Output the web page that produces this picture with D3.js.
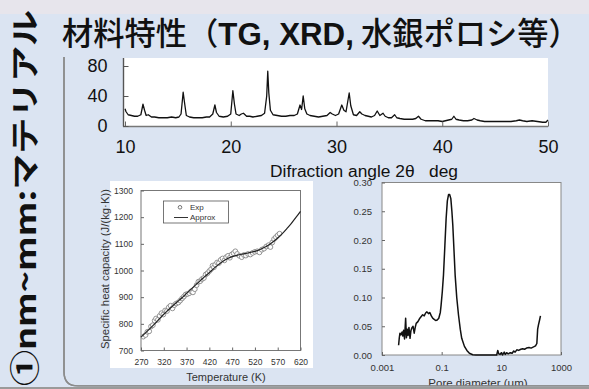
<!DOCTYPE html>
<html><head><meta charset="utf-8">
<script src="https://cdn.jsdelivr.net/npm/d3@7"></script>
<style>html,body{margin:0;padding:0;background:#dbe4f2;overflow:hidden}</style>
</head><body><svg id="c" width="589" height="389" xmlns="http://www.w3.org/2000/svg"></svg>
<script>
// ---------- data ----------
const titleParts = ["材料特性（", "TG, XRD,", " 水銀ポロシ等）"];
const sideText = "①nm~mm:マテリアル";

const xrdAngle = [10.0,10.1,10.3,10.6,10.9,11.2,11.5,11.7,11.85,12.0,12.2,12.5,12.8,13.2,13.6,14.0,14.4,14.8,15.1,15.3,15.5,15.65,15.8,16.1,16.5,16.9,17.3,17.7,18.0,18.3,18.5,18.65,18.9,19.3,19.7,20.0,20.2,20.35,20.5,20.8,21.0,21.2,21.5,21.8,22.1,22.5,22.9,23.2,23.4,23.5,23.6,23.75,24.0,24.4,24.8,25.2,25.6,26.0,26.3,26.55,26.7,26.85,27.0,27.2,27.5,27.9,28.3,28.7,29.1,29.4,29.6,29.9,30.2,30.5,30.7,30.9,31.2,31.35,31.6,31.9,32.2,32.4,32.7,33.0,33.3,33.6,33.85,34.1,34.4,34.6,34.9,35.2,35.5,35.7,36.0,36.4,36.8,37.2,37.5,37.75,38.0,38.4,38.8,39.2,39.6,40.0,40.3,40.6,40.9,41.1,41.3,41.6,42.0,42.4,42.8,43.0,43.3,43.6,44.0,44.5,45.0,45.5,46.0,46.5,47.0,47.3,47.6,48.0,48.5,49.0,49.5,49.8,50.0];
const xrdIntensity = [23,19,15,14,13,13,15,29,21,14,15,12,12,11,11,11,12,11,12,16,45,29,14,12,11,11,11,12,12,16,28,18,13,12,13,16,47,29,16,14,16,17,13,13,12,13,14,17,40,73,44,21,15,14,13,13,14,14,16,28,22,40,23,16,14,13,12,13,14,18,16,14,16,28,21,19,44,27,15,14,19,16,14,13,12,14,20,14,17,13,11,11,15,11,10,9,9,9,10,13,9,7,7,7,7,6,7,8,9,13,9,8,7,7,8,10,8,7,6,6,6,6,6,6,7,8,7,6,7,6,5,5,8];
const xrdXTicks = [10,20,30,40,50];
const xrdYTicks = [0,40,80];

const cpApproxT = [270,280,290,300,310,320,330,340,350,360,370,380,390,400,410,420,430,440,450,460,470,480,490,500,510,520,530,540,550,560,570,580,590,600,610,620];
const cpApproxV = [750,766,783,800,818,836,852,868,883,898,914,930,946,962,977,992,1008,1022,1035,1045,1052,1057,1061,1064,1068,1072,1078,1086,1096,1108,1122,1138,1157,1177,1199,1222];
const cpExpT = [275,280,284,288,292,296,300,303,307,311,315,319,323,327,331,335,339,343,347,352,356,360,364,368,372,376,380,384,388,392,396,400,404,408,412,416,420,424,427,430,433,437,441,445,449,453,457,461,465,469,473,477,481,486,491,496,500,505,510,515,520,525,530,535,540,545,550,554,558,562,566,570,574];
const cpExpV = [752,758,770,772,790,795,812,820,815,830,840,835,850,848,862,868,858,870,876,880,887,895,902,910,912,915,922,918,930,945,958,960,968,972,985,990,998,1005,1018,1012,1022,1030,1028,1040,1045,1038,1050,1055,1048,1060,1065,1072,1062,1055,1050,1058,1056,1062,1060,1066,1070,1072,1068,1078,1082,1090,1095,1088,1105,1118,1125,1132,1138];
const cpXTicks = [270,320,370,420,470,520,570,620];
const cpYTicks = [700,800,900,1000,1100,1200,1300];

const poreD = [0.0036,0.0038,0.0040,0.0043,0.0047,0.0050,0.0053,0.0057,0.0062,0.0066,0.0070,0.0075,0.0080,0.0087,0.0093,0.010,0.011,0.012,0.013,0.014,0.016,0.018,0.020,0.023,0.026,0.029,0.032,0.036,0.040,0.045,0.050,0.056,0.063,0.071,0.080,0.090,0.095,0.105,0.115,0.128,0.141,0.155,0.170,0.185,0.203,0.220,0.236,0.260,0.283,0.320,0.366,0.420,0.470,0.580,0.700,0.850,1.1,1.4,2,4,7,7.6,8.2,9,10,11,12.5,13.5,15,17,20,23,26,29,33,38,45,52,60,70,85,100,120,140,155,165,175,190,205];
const poreV = [0.017,0.030,0.038,0.035,0.040,0.033,0.043,0.028,0.064,0.030,0.045,0.034,0.048,0.029,0.042,0.047,0.050,0.038,0.048,0.055,0.058,0.063,0.066,0.070,0.068,0.073,0.075,0.072,0.074,0.068,0.064,0.062,0.060,0.061,0.064,0.074,0.085,0.110,0.139,0.190,0.237,0.268,0.279,0.279,0.272,0.250,0.226,0.180,0.139,0.100,0.070,0.045,0.029,0.015,0.008,0.003,0.0005,0,0,0,0,0.008,0.002,0.001,0.004,0,0.005,0.001,0.004,0.002,0.004,0.003,0.007,0.005,0.009,0.008,0.010,0.011,0.010,0.012,0.013,0.012,0.014,0.016,0.020,0.045,0.052,0.060,0.068];
const poreXTicks = [0.001,0.1,10,1000];
const poreYTicks = [0,0.05,0.10,0.15,0.20,0.25,0.30];

// ---------- drawing ----------
const svg = d3.select("#c");
svg.append("rect").attr("width",589).attr("height",389).attr("fill","#dbe4f2");
svg.append("rect").attr("width",589).attr("height",14).attr("fill","#e7e5ec");

// title
const title = svg.append("text").attr("x",62).attr("y",45)
  .attr("font-family","'Noto Sans CJK JP','Noto Sans',sans-serif").attr("font-weight",500).attr("font-size",27).attr("fill","#111");
title.append("tspan").text(titleParts[0]);
title.append("tspan").attr("font-weight","bold").attr("font-family","'Liberation Sans',Arial,sans-serif").text(titleParts[1]);
title.append("tspan").text(titleParts[2]);
{ const L = title.node().getComputedTextLength(); title.attr("font-size", 27*518/L); }

// side text
svg.append("text").attr("transform","translate(26,386) rotate(-90)")
  .attr("dy","0.36em").attr("font-family","'Noto Sans CJK JP',sans-serif").attr("font-weight","bold")
  .attr("font-size",29).attr("fill","#111")
  .attr("textLength",376).attr("lengthAdjust","spacingAndGlyphs").text(sideText);

// frame
svg.append("path").attr("d","M64,57 V372 Q64,386 78,386 H589").attr("fill","none").attr("stroke","#8c8c8c").attr("stroke-width",1.5);

// ---------- XRD ----------
{
  const x = d3.scaleLinear([10,50],[125,548]);
  const y = d3.scaleLinear([0,90],[126,58.5]);
  svg.append("rect").attr("x",123).attr("y",58).attr("width",425).attr("height",68.5).attr("fill","#fff");
  const g = svg.append("g");
  g.append("path").datum(d3.zip(xrdAngle,xrdIntensity))
    .attr("d", d3.line().x(d=>x(d[0])).y(d=>y(d[1])))
    .attr("fill","none").attr("stroke","#111").attr("stroke-width",1.3).attr("stroke-linejoin","round");
  const xa = g.append("g").attr("transform","translate(0,126.5)")
    .call(d3.axisBottom(x).tickValues(xrdXTicks).tickSize(-5).tickPadding(12).tickFormat(d3.format("d")));
  xa.select(".domain").attr("stroke","#777").attr("stroke-width",1.6).attr("d","M123,0H548");
  xa.selectAll(".tick line").attr("stroke","#666");
  xa.selectAll("text").attr("font-size",18).attr("font-family","'Liberation Sans',Arial,sans-serif").attr("fill","#111").attr("dy","0.8em");
  const ya = g.append("g").attr("transform","translate(123.5,0)")
    .call(d3.axisLeft(y).tickValues(xrdYTicks).tickSize(-5).tickPadding(16).tickFormat(d3.format("d")));
  ya.select(".domain").attr("stroke","#555").attr("stroke-width",1.4).attr("d","M0,58V126.5");
  ya.selectAll(".tick line").attr("stroke","#555");
  ya.selectAll("text").attr("font-size",18).attr("font-family","'Liberation Sans',Arial,sans-serif").attr("fill","#111");
  svg.append("text").attr("x",270).attr("y",177).attr("font-size",16)
    .attr("font-family","'Liberation Sans',Arial,sans-serif").attr("fill","#111").style("white-space","pre")
    .attr("textLength",188).attr("lengthAdjust","spacingAndGlyphs").text("Difraction angle 2θ   deg");
}

// ---------- Heat capacity ----------
{
  svg.append("rect").attr("x",110).attr("y",181).attr("width",203).attr("height",187).attr("fill","#fff");
  const x = d3.scaleLinear([270,620],[141,300.5]);
  const y = d3.scaleLinear([700,1300],[350.5,190.5]);
  const f = "'Liberation Sans',Arial,sans-serif";
  const g = svg.append("g");
  g.append("rect").attr("x",141).attr("y",190.5).attr("width",159.5).attr("height",160).attr("fill","none").attr("stroke","#777").attr("stroke-width",1);
  const xa = g.append("g").attr("transform","translate(0,350.5)")
    .call(d3.axisBottom(x).tickValues(cpXTicks).tickSize(-3).tickPadding(8).tickFormat(d3.format("d")));
  xa.select(".domain").remove();
  xa.selectAll(".tick line").attr("stroke","#666");
  xa.selectAll("text").attr("font-size",8.5).attr("font-family",f).attr("fill","#333");
  const ya = g.append("g").attr("transform","translate(141,0)")
    .call(d3.axisLeft(y).tickValues(cpYTicks).tickSize(-3).tickPadding(8).tickFormat(d3.format("d")));
  ya.select(".domain").remove();
  ya.selectAll(".tick line").attr("stroke","#666");
  ya.selectAll("text").attr("font-size",8.5).attr("font-family",f).attr("fill","#333");
  g.append("g").selectAll("circle").data(d3.zip(cpExpT,cpExpV)).join("circle")
    .attr("cx",d=>x(d[0])).attr("cy",d=>y(d[1])).attr("r",2.4)
    .attr("fill","#fff").attr("stroke","#888").attr("stroke-width",0.9);
  g.append("path").datum(d3.zip(cpApproxT,cpApproxV))
    .attr("d", d3.line().x(d=>x(d[0])).y(d=>y(d[1])).curve(d3.curveCatmullRom))
    .attr("fill","none").attr("stroke","#222").attr("stroke-width",1.2);
  // legend
  g.append("rect").attr("x",163.5).attr("y",201).attr("width",65).attr("height",22).attr("fill","#fff").attr("stroke","#555").attr("stroke-width",0.8);
  g.append("circle").attr("cx",180).attr("cy",207.3).attr("r",1.8).attr("fill","#fff").attr("stroke","#666").attr("stroke-width",0.9);
  g.append("line").attr("x1",174).attr("x2",188).attr("y1",217.5).attr("y2",217.5).attr("stroke","#333").attr("stroke-width",1);
  g.append("text").attr("x",190).attr("y",210).attr("font-size",8).attr("font-family",f).attr("fill","#333").text("Exp");
  g.append("text").attr("x",190).attr("y",220.3).attr("font-size",8).attr("font-family",f).attr("fill","#333").text("Approx");
  g.append("text").attr("x",226).attr("y",381).attr("text-anchor","middle").attr("font-size",11).attr("font-family",f).attr("fill","#333").text("Temperature (K)");
  g.append("text").attr("transform","translate(105,269) rotate(-90)").attr("dy","0.35em").attr("text-anchor","middle")
    .attr("font-size",10.5).attr("font-family",f).attr("fill","#333")
    .attr("textLength",160).attr("lengthAdjust","spacingAndGlyphs").text("Specific heat capacity (J/(kg·K))");
}

// ---------- Pore ----------
{
  const x = d3.scaleLog([0.001,1000],[382,561]);
  const y = d3.scaleLinear([0,0.30],[355,182.5]);
  const f = "'Liberation Sans',Arial,sans-serif";
  const g = svg.append("g");
  g.append("rect").attr("x",382).attr("y",182.5).attr("width",179).attr("height",172.5).attr("fill","#fff").attr("stroke","#888").attr("stroke-width",1);
  const xa = g.append("g").attr("transform","translate(0,355)")
    .call(d3.axisBottom(x).tickValues(poreXTicks).tickSize(-3).tickPadding(9).tickFormat(d=>String(d)));
  xa.select(".domain").remove();
  xa.selectAll(".tick line").attr("stroke","#666");
  xa.selectAll("text").attr("font-size",9.5).attr("font-family",f).attr("fill","#333");
  const ya = g.append("g").attr("transform","translate(382,0)")
    .call(d3.axisLeft(y).tickValues(poreYTicks).tickSize(-3).tickPadding(10).tickFormat(d3.format(".2f")));
  ya.select(".domain").remove();
  ya.selectAll(".tick line").attr("stroke","#666");
  ya.selectAll("text").attr("font-size",9.5).attr("font-family",f).attr("fill","#333");
  g.append("path").datum(d3.zip(poreD,poreV))
    .attr("d", d3.line().x(d=>x(d[0])).y(d=>y(d[1])))
    .attr("fill","none").attr("stroke","#111").attr("stroke-width",1.5).attr("stroke-linejoin","round");
  const clip = svg.append("clipPath").attr("id","pc");
  clip.append("rect").attr("x",320).attr("y",178).attr("width",40).attr("height",211);
  g.append("text").attr("clip-path","url(#pc)").attr("transform","translate(335,366) rotate(-90)").attr("dy","0.35em")
    .attr("font-size",11).attr("font-family",f).attr("fill","#333").text("Incremental volume introduced (cc/g)");
  g.append("text").attr("x",478).attr("y",387).attr("text-anchor","middle").attr("font-size",11.5).attr("font-family",f).attr("fill","#333").text("Pore diameter (μm)");
}
// bottom border on top
svg.append("rect").attr("x",70).attr("y",386).attr("width",519).attr("height",3).attr("fill","#dbe4f2");
svg.append("path").attr("d","M64,57 V372 Q64,386 78,386 H589").attr("fill","none").attr("stroke","#8c8c8c").attr("stroke-width",1.5);
svg.append("rect").attr("x",0).attr("y",387).attr("width",589).attr("height",2).attr("fill","#9a9a9a");
</script></body></html>
